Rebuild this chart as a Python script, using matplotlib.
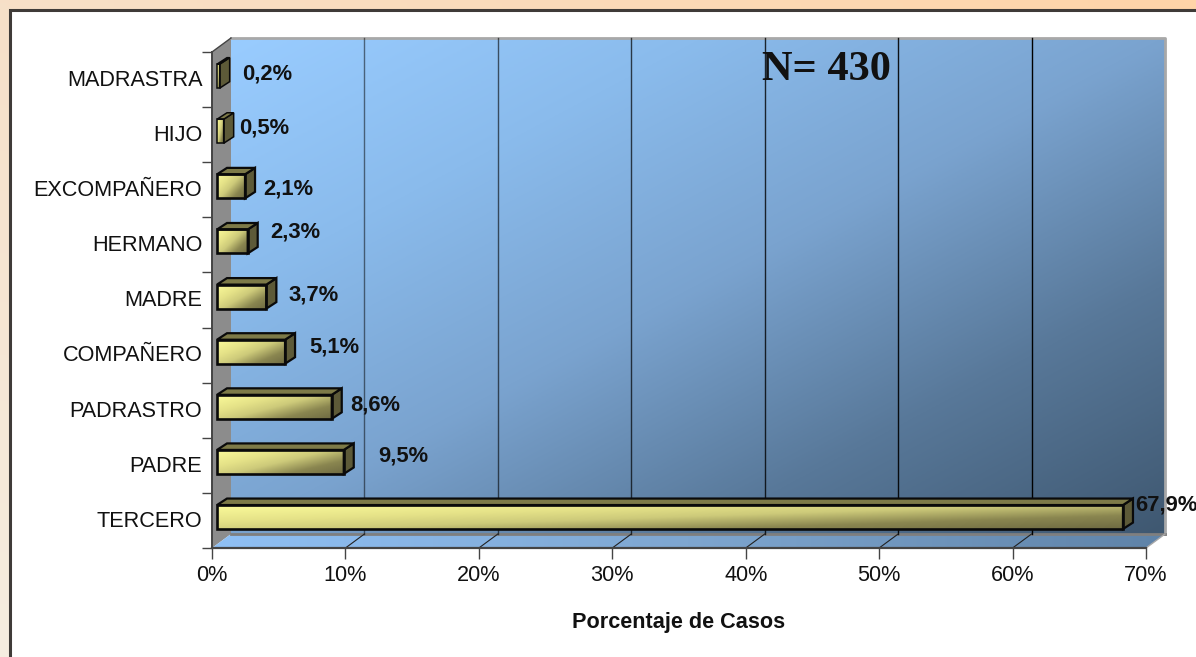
import matplotlib
matplotlib.use('Agg')
import matplotlib.pyplot as plt
import numpy as np
from matplotlib.colors import LinearSegmentedColormap
from matplotlib.patches import Polygon, Rectangle

categorias = ['TERCERO', 'PADRE', 'PADRASTRO', 'COMPAÑERO', 'MADRE',
              'HERMANO', 'EXCOMPAÑERO', 'HIJO', 'MADRASTRA']
porcentajes = [67.9, 9.5, 8.6, 5.1, 3.7, 2.3, 2.1, 0.5, 0.2]
etiquetas = ['67,9%', '9,5%', '8,6%', '5,1%', '3,7%', '2,3%', '2,1%', '0,5%', '0,2%']
ticks_x = [0, 10, 20, 30, 40, 50, 60, 70]

# where each value label sits, in pixels from the end of its bar
etq_dx = [12, 34, 19, 24, 22, 23, 18, 15, 22]
etq_dy = [15, 9, 5, 8, 5, 13, 1, 7, 6]

plt.rcParams['font.family'] = ['Liberation Sans', 'DejaVu Sans']

W, H = 1196, 657
x0, x1, y0, y1 = 212, 1146, 548, 52
px_x = (x1 - x0) / 70
px_y = (y0 - y1) / 9
prof_x = 19 / px_x
prof_y = 14 / px_y

fig = plt.figure(figsize=(W / 100, H / 100), dpi=100)

# page background
bg = fig.add_axes([0, 0, 1, 1])
bg.axis('off')


def mapa(colores):
    return LinearSegmentedColormap.from_list('m', colores)


def diagonal(a=1.0, b=1.0, n=200):
    u, v = np.meshgrid(np.linspace(0, 1, n), np.linspace(0, 1, n))
    return (a * u + b * v) / (a + b)


bg.imshow(diagonal(1, 1)[::-1], extent=(0, W, H, 0), aspect='auto',
          cmap=mapa(['#f5ede0', '#f7e0c8', '#ffd4a8']), vmin=0, vmax=1)
bg.add_patch(Rectangle((10, 10), W, H, fc='white', ec='#3f3b38', lw=2.2))
bg.set_xlim(0, W)
bg.set_ylim(H, 0)

ax = fig.add_axes([x0 / W, (H - y0) / H, (x1 - x0) / W, (y0 - y1) / H])
ax.patch.set_visible(False)
for s in ax.spines.values():
    s.set_visible(False)


def cara(verts, valores, cmap, zorder, vmin=0, vmax=1):
    verts = np.array(verts)
    ext = (verts[:, 0].min(), verts[:, 0].max(), verts[:, 1].min(), verts[:, 1].max())
    im = ax.imshow(valores, extent=ext, origin='upper', aspect='auto', cmap=cmap,
                   vmin=vmin, vmax=vmax, zorder=zorder, interpolation='bilinear')
    im.set_clip_box(fig.bbox)
    im.set_clip_path(Polygon(verts, transform=ax.transData))
    return im


ymin, ymax = -0.5, 8.5
wall = mapa(['#99ccff', '#8abbec', '#7aa3cf', '#587899', '#3f5871'])

# back wall
cara([(prof_x, ymin + prof_y), (70 + prof_x, ymin + prof_y),
      (70 + prof_x, ymax + prof_y), (prof_x, ymax + prof_y)],
     diagonal(1.0, 1.0), wall, 1)
# side wall
ax.add_patch(Polygon([(0, ymin), (prof_x, ymin + prof_y), (prof_x, ymax + prof_y), (0, ymax)],
                     fc='#8c8c8c', ec='none', clip_on=False, zorder=1.2))
# floor
cara([(0, ymin), (70, ymin), (70 + prof_x, ymin + prof_y), (prof_x, ymin + prof_y)],
     diagonal(1.0, 0.0)[::-1], mapa(['#8fc0f5', '#7ea6d0', '#5f83a8']), 1.2)

# wall border
ax.plot([prof_x, 70 + prof_x, 70 + prof_x], [ymax + prof_y, ymax + prof_y, ymin + prof_y],
        color='#a8a8a8', lw=2, clip_on=False, zorder=1.4)
ax.plot([prof_x, 70 + prof_x], [ymin + prof_y, ymin + prof_y], color='#7f7f7f', lw=2,
        clip_on=False, zorder=1.4)
ax.plot([70, 70 + prof_x], [ymin, ymin + prof_y], color='#a8a8a8', lw=1, clip_on=False, zorder=1.4)

# grid lines on wall and floor, they get blacker towards the right
for t in ticks_x[1:-1]:
    ax.plot([t + prof_x] * 2, [ymin + prof_y, ymax + prof_y], color='black', lw=1,
            alpha=0.4 + t / 100, clip_on=False, zorder=1.5)
    ax.plot([t, t + prof_x], [ymin, ymin + prof_y], color='#222222', lw=0.8, clip_on=False, zorder=1.5)

# axis lines
ax.plot([0, 0], [ymin, ymax], color='#444444', lw=1.4, clip_on=False, zorder=1.6)
ax.plot([0, 70], [ymin, ymin], color='#444444', lw=1.6, clip_on=False, zorder=1.6)
ax.plot([0, prof_x], [ymax, ymax + prof_y], color='#444444', lw=1, clip_on=False, zorder=1.6)

# bars
amarillo = LinearSegmentedColormap.from_list(
    'barra', [(0, '#fbfb9a'), (0.3, '#e5e288'), (0.5, '#cdca7a'), (0.75, '#8a8650'), (1, '#6e6a42')])
lado = '#5d5a38'
techo = '#7d7a48'
alto = 24 / px_y
off_x = 5 / px_x
off_y = 3.4 / px_y
bd_x = 10 / px_x
bd_y = 6.5 / px_y
for i, (v, e, dx, dy) in enumerate(zip(porcentajes, etiquetas, etq_dx, etq_dy)):
    xa, xb = off_x, off_x + v
    ya, yb = i + off_y - alto / 2, i + off_y + alto / 2
    z = 3 + (8 - i) * 0.1
    verts = [(xa, ya), (xb, ya), (xb, yb), (xa, yb)]
    cara(verts, diagonal(1.0, 0.8), amarillo, z)
    # thin outline on the very short bars so the front stays visible
    lw = 1.9 if v > 1 else 1.1
    ax.add_patch(Polygon(verts, fc='none', ec='#0a0a0a', lw=lw, clip_on=False, zorder=z + 0.02))
    ax.add_patch(Polygon([(xb, ya), (xb + bd_x, ya + bd_y), (xb + bd_x, yb + bd_y), (xb, yb)],
                         fc=lado, ec='#0a0a0a', lw=min(lw, 1.6), clip_on=False, zorder=z + 0.01))
    ax.add_patch(Polygon([(xa, yb), (xb, yb), (xb + bd_x, yb + bd_y), (xa + bd_x, yb + bd_y)],
                         fc=techo, ec='#0a0a0a', lw=min(lw, 1.6), clip_on=False, zorder=z + 0.01))
    ax.annotate(e, xy=(xb, i), xytext=(dx, dy), textcoords='offset pixels', ha='left',
                va='center', fontsize=15.8, fontweight='bold', color='#111111',
                annotation_clip=False, zorder=6)

ax.set_xlim(0, 70)
ax.set_ylim(ymin, ymax)
ax.set_xticks(ticks_x)
ax.set_xticklabels([f'{t}%' for t in ticks_x], fontsize=15.6, color='#111111')
ax.set_yticks(np.arange(10) - 0.5, minor=True)
ax.set_yticks(np.arange(len(categorias)) + 0.03)
ax.set_yticklabels(categorias, fontsize=15.6, color='#111111')
ax.tick_params(axis='y', which='major', length=0, pad=7)
ax.tick_params(axis='y', which='minor', length=7, width=1, color='#444444', direction='out')
ax.tick_params(axis='x', length=8, width=1, color='#444444', pad=4)
ax.set_xlabel('Porcentaje de Casos', fontsize=15.6, fontweight='bold', labelpad=19, color='#111111')

ax.text(0.589, 0.964, 'N= 430', transform=ax.transAxes, family=['Liberation Serif'],
        fontsize=30.5, fontweight='bold', color='#111111', ha='left', va='center', zorder=6)

plt.savefig('out.png', dpi=100)
plt.close()
